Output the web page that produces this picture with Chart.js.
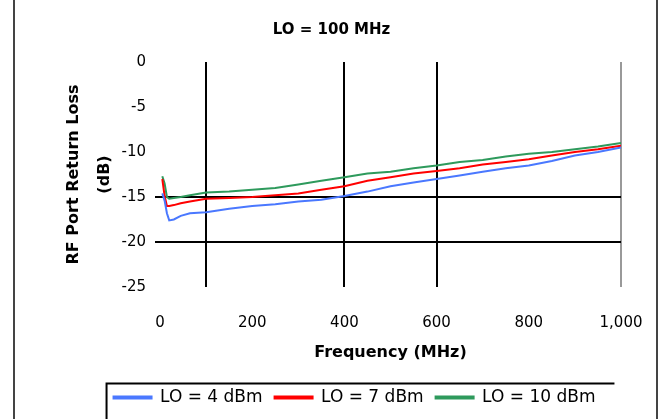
<!DOCTYPE html>
<html>
<head>
<meta charset="utf-8">
<script src="https://cdn.jsdelivr.net/npm/chart.js@4/dist/chart.umd.min.js"></script>
<style>
  html, body { margin: 0; padding: 0; background: #fff; }
  #wrap { position: relative; width: 663px; height: 419px; overflow: hidden; }
  .frame {
    position: absolute; top: 0; left: 13px; width: 645px; height: 419px;
    border-left: 2px solid #444; border-right: 2px solid #444;
    box-sizing: border-box; pointer-events: none;
  }
</style>
</head>
<body>
<div id="wrap">
  <canvas id="myChart" width="663" height="419"></canvas>
  <div class="frame"></div>
</div>
<script>
// Frequency points (MHz)
const freqMHz = [5, 10, 15, 20, 30, 45, 65, 100, 150, 200, 250, 300, 350, 400, 450, 500, 550, 600, 650, 700, 750, 800, 850, 900, 950, 1000];

// RF port return loss (dB) for each LO drive level
const lo4dBm = [-14.6, -15.4, -16.8, -17.6, -17.5, -17.1, -16.8, -16.7, -16.3, -16.0, -15.8, -15.5, -15.3, -14.9, -14.4, -13.8, -13.4, -13.0, -12.6, -12.2, -11.8, -11.5, -11.0, -10.4, -10.0, -9.5];
const lo7dBm = [-13.0, -14.9, -16.0, -16.0, -15.9, -15.7, -15.5, -15.2, -15.1, -15.0, -14.8, -14.6, -14.2, -13.8, -13.2, -12.8, -12.4, -12.1, -11.8, -11.4, -11.1, -10.8, -10.4, -10.0, -9.7, -9.3];
const lo10dBm = [-12.7, -13.5, -15.0, -15.2, -15.1, -15.0, -14.8, -14.5, -14.4, -14.2, -14.0, -13.6, -13.2, -12.8, -12.4, -12.2, -11.8, -11.5, -11.1, -10.9, -10.5, -10.2, -10.0, -9.7, -9.4, -9.0];

// Axis ticks and the few grid lines the original shows
const xTicks = [0, 200, 400, 600, 800, 1000];
const yTicks = [0, -5, -10, -15, -20, -25];
const xGridLines = [100, 400, 600];
const yGridLines = [-15, -20];

const FONT = 'DejaVu Sans, Liberation Sans, Arial, sans-serif';

const toPoints = vals => freqMHz.map((f, i) => ({ x: f, y: vals[i] }));

// Nudges the legend row right (it sits off-centre in the original)
// and draws the open box (top + left edges) around it
const legendFrame = {
  id: 'legendFrame',
  afterLayout(chart) {
    const lg = chart.legend;
    if (!lg) return;
    lg.left += 23;
    lg.right += 23;
  },
  afterDraw(chart) {
    const boxes = chart.legend && chart.legend.legendHitBoxes;
    if (!boxes || !boxes.length) return;
    const first = boxes[0];
    const last = boxes[boxes.length - 1];
    const left = first.left - 7;
    const top = first.top + first.height / 2 - 14;
    const right = last.left + last.width + 19;
    const c = chart.ctx;
    c.save();
    c.strokeStyle = '#000';
    c.lineWidth = 2;
    c.beginPath();
    c.moveTo(left, chart.height + 5);
    c.lineTo(left, top);
    c.lineTo(right, top);
    c.stroke();
    c.restore();
  }
};

const ctx = document.getElementById('myChart').getContext('2d');
const chart = new Chart(ctx, {
  type: 'line',
  data: {
    datasets: [
      { label: 'LO = 4 dBm', data: toPoints(lo4dBm), borderColor: '#4a78ff', backgroundColor: '#4a78ff' },
      { label: 'LO = 7 dBm', data: toPoints(lo7dBm), borderColor: '#ff0000', backgroundColor: '#ff0000' },
      { label: 'LO = 10 dBm', data: toPoints(lo10dBm), borderColor: '#2e9a5c', backgroundColor: '#2e9a5c' }
    ]
  },
  options: {
    responsive: false,
    animation: false,
    devicePixelRatio: 1,
    layout: { padding: { left: 0, right: 0, top: 0, bottom: 3 } },
    elements: {
      point: { radius: 0 },
      line: { borderWidth: 2, tension: 0 }
    },
    plugins: {
      title: {
        display: true,
        text: 'LO = 100 MHz',
        color: '#000',
        font: { family: FONT, size: 15, weight: 'bold' },
        padding: { top: 21, bottom: 23 }
      },
      legend: {
        position: 'bottom',
        labels: {
          color: '#000',
          font: { family: FONT, size: 17 },
          boxWidth: 38,
          boxHeight: 2,
          padding: 12
        }
      },
      tooltip: { enabled: false }
    },
    scales: {
      x: {
        type: 'linear',
        min: 0,
        max: 1000,
        afterBuildTicks: s => { s.ticks = xTicks.map(v => ({ value: v })); },
        afterFit: s => { s.height = 90; },
        ticks: {
          color: '#000',
          font: { family: FONT, size: 15 },
          padding: 5,
          maxRotation: 0,
          callback: v => v.toLocaleString('en-US')
        },
        grid: {
          color: c => (c.tick && c.tick.value === 1000 ? '#999' : 'rgba(0,0,0,0)'),
          lineWidth: 2,
          drawTicks: true,
          tickLength: 22,
          tickColor: 'rgba(0,0,0,0)'
        },
        border: { display: false },
        title: {
          display: true,
          text: 'Frequency (MHz)',
          color: '#000',
          font: { family: FONT, size: 16, weight: 'bold' },
          padding: { top: 0, bottom: 15 }
        }
      },
      xGrid: {
        type: 'linear',
        position: 'bottom',
        min: 0,
        max: 1000,
        afterBuildTicks: s => { s.ticks = xGridLines.map(v => ({ value: v })); },
        afterFit: s => { s.height = 0; },
        ticks: { display: false },
        grid: { color: '#000', lineWidth: 2, drawTicks: false },
        border: { display: false }
      },
      y: {
        min: -25,
        max: 0,
        afterBuildTicks: s => { s.ticks = yTicks.map(v => ({ value: v })); },
        afterFit: s => { s.width = 160; },
        ticks: {
          color: '#000',
          font: { family: FONT, size: 15 },
          padding: 9
        },
        grid: {
          color: c => (c.tick && yGridLines.includes(c.tick.value) ? '#000' : 'rgba(0,0,0,0)'),
          lineWidth: 2,
          tickLength: 5
        },
        border: { display: false },
        title: {
          display: true,
          text: ['RF Port Return Loss', '(dB)'],
          color: '#000',
          font: { family: FONT, size: 16, weight: 'bold', lineHeight: 1.9 },
          padding: { top: 59, bottom: 0 }
        }
      },
      // empty right-hand axis: only reserves the margin right of the plot
      yPad: {
        type: 'linear',
        position: 'right',
        afterFit: s => { s.width = 42; },
        ticks: { display: false },
        grid: { display: false },
        border: { display: false }
      }
    }
  },
  plugins: [legendFrame]
});
</script>
</body>
</html>
